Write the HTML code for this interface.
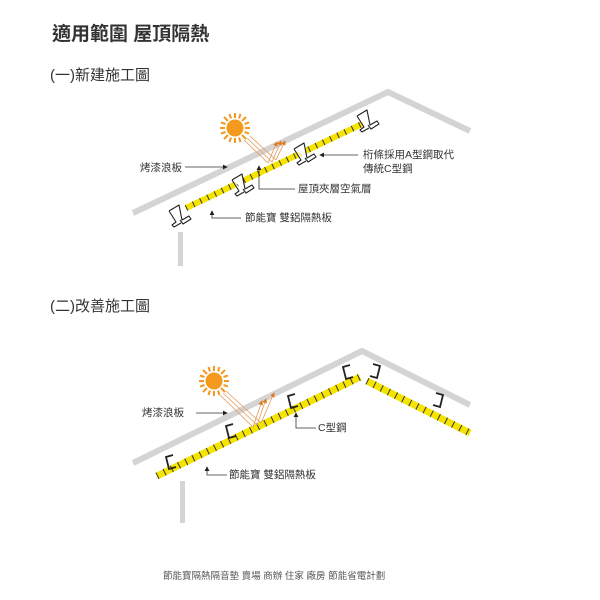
<!DOCTYPE html>
<html><head><meta charset="utf-8"><style>
body{margin:0;background:#fff}
svg{display:block}
text{font-family:"Liberation Sans","Noto Sans CJK TC",sans-serif}
</style></head><body>
<svg width="600" height="600" viewBox="0 0 600 600" xmlns="http://www.w3.org/2000/svg">
<defs>
<g id="sun">
 <g stroke="#f39a1e" stroke-width="2">
  <line x1="0" y1="-10" x2="0" y2="-15"/><line x1="0" y1="10" x2="0" y2="15"/>
  <line x1="-10" y1="0" x2="-15" y2="0"/><line x1="10" y1="0" x2="15" y2="0"/>
  <line x1="7" y1="7" x2="11" y2="11"/><line x1="-7" y1="-7" x2="-11" y2="-11"/>
  <line x1="7" y1="-7" x2="11" y2="-11"/><line x1="-7" y1="7" x2="-11" y2="11"/>
  <line x1="4" y1="9.5" x2="5.5" y2="14"/><line x1="-4" y1="-9.5" x2="-5.5" y2="-14"/>
  <line x1="9.5" y1="4" x2="14" y2="5.5"/><line x1="-9.5" y1="-4" x2="-14" y2="-5.5"/>
  <line x1="-4" y1="9.5" x2="-5.5" y2="14"/><line x1="4" y1="-9.5" x2="5.5" y2="-14"/>
  <line x1="9.5" y1="-4" x2="14" y2="-5.5"/><line x1="-9.5" y1="4" x2="-14" y2="5.5"/>
 </g>
 <circle r="8.5" fill="#f39a1e"/>
</g>
<g id="z"><path d="M-11,-3 L-1,-9 L2,6 L9,2 L11,5 L3,10 L0,6 M-11,-3 L-4,8 L-8,11 L-6,13 L1,9" fill="#fff" stroke="#222" stroke-width="1.1" stroke-linejoin="round"/></g>
<marker id="ah" markerWidth="6" markerHeight="6" refX="5" refY="3" orient="auto"><path d="M0,0 L6,3 L0,6z" fill="#222"/></marker>
<marker id="ao" markerWidth="6" markerHeight="6" refX="5" refY="3" orient="auto"><path d="M0,0 L6,3 L0,6z" fill="#e07a1e"/></marker>
</defs>

<text x="52" y="40" font-size="19" font-weight="bold" fill="#333">適用範圍 屋頂隔熱</text>
<text x="50" y="80" font-size="15" fill="#333">(一)新建施工圖</text>
<text x="50" y="311" font-size="15" fill="#333">(二)改善施工圖</text>

<!-- Diagram 1 -->
<polyline points="133,213 388,92 470,131" fill="none" stroke="#d4d4d4" stroke-width="6"/>
<rect x="178" y="232" width="5" height="34" fill="#d4d4d4"/>
<line x1="186" y1="208" x2="362" y2="124" stroke="#f5e400" stroke-width="6"/>
<line x1="186" y1="208" x2="362" y2="124" stroke="#333" stroke-width="6" stroke-dasharray="1 7"/>
<use href="#z" x="180" y="214"/><use href="#z" x="243" y="183"/><use href="#z" x="305" y="152"/><use href="#z" x="368" y="119"/>
<use href="#sun" x="235" y="128"/>
<g stroke="#e39a5a" stroke-width="0.8" fill="none">
<line x1="244" y1="140" x2="268" y2="163"/><line x1="247" y1="138" x2="272" y2="162"/><line x1="250" y1="136" x2="276" y2="160"/>
<line x1="268" y1="163" x2="277" y2="142" marker-end="url(#ao)"/><line x1="272" y1="162" x2="281" y2="141" marker-end="url(#ao)"/><line x1="276" y1="160" x2="285" y2="141" marker-end="url(#ao)"/>
</g>
<g stroke="#333" stroke-width="0.8" fill="none">
<line x1="185" y1="167" x2="227" y2="167" marker-end="url(#ah)"/>
<polyline points="295,189 259,189 259,166" marker-end="url(#ah)"/>
<line x1="358" y1="155" x2="320" y2="155" marker-end="url(#ah)"/>
<polyline points="241,218 212,218 212,211" marker-end="url(#ah)"/>
</g>
<g font-size="10.5" fill="#333">
<text x="140" y="171">烤漆浪板</text>
<text x="298" y="192">屋頂夾層空氣層</text>
<text x="363" y="158">桁條採用A型鋼取代</text>
<text x="363" y="172">傳統C型鋼</text>
<text x="245" y="221">節能寶 雙鋁隔熱板</text>
</g>

<!-- Diagram 2 -->
<polyline points="133,463 362,351 470,405" fill="none" stroke="#d4d4d4" stroke-width="6"/>
<rect x="180" y="481" width="5" height="42" fill="#d4d4d4"/>
<line x1="157" y1="476" x2="360" y2="377" stroke="#f5e400" stroke-width="7"/>
<line x1="157" y1="476" x2="360" y2="377" stroke="#333" stroke-width="7" stroke-dasharray="1 7"/>
<line x1="367" y1="381" x2="470" y2="433" stroke="#f5e400" stroke-width="7"/>
<line x1="367" y1="381" x2="470" y2="433" stroke="#333" stroke-width="7" stroke-dasharray="1 7"/>
<g fill="none" stroke="#222" stroke-width="1.8">
<path d="M173,455 L166,457 L169,469 L176,467"/>
<path d="M233,424 L226,426 L229,438 L236,436"/>
<path d="M295,394 L288,396 L291,408 L298,406"/>
<path d="M350,365 L343,367 L346,379 L353,377"/>
<path d="M373,364 L380,366 L377,378 L370,376"/>
<path d="M436,393 L443,395 L440,407 L433,405"/>
</g>
<use href="#sun" x="214" y="381"/>
<g stroke="#e39a5a" stroke-width="0.8" fill="none">
<line x1="220" y1="395" x2="253" y2="427"/><line x1="223" y1="393" x2="257" y2="425"/><line x1="226" y1="391" x2="261" y2="423"/>
<line x1="253" y1="427" x2="262" y2="401" marker-end="url(#ao)"/><line x1="257" y1="425" x2="266" y2="399" marker-end="url(#ao)"/><line x1="261" y1="423" x2="274" y2="393" marker-end="url(#ao)"/>
</g>
<g stroke="#333" stroke-width="0.8" fill="none">
<line x1="196" y1="413" x2="227" y2="413" marker-end="url(#ah)"/>
<polyline points="316,428 296,428 296,413" marker-end="url(#ah)"/>
<polyline points="227,475 207,475 207,467" marker-end="url(#ah)"/>
</g>
<g font-size="10.5" fill="#333">
<text x="142" y="416">烤漆浪板</text>
<text x="318" y="431">C型鋼</text>
<text x="229" y="478">節能寶 雙鋁隔熱板</text>
</g>

<text x="163" y="579" font-size="9.5" fill="#555">節能寶隔熱隔音墊 賣場 商辦 住家 廠房 節能省電計劃</text>
</svg>
</body></html>
